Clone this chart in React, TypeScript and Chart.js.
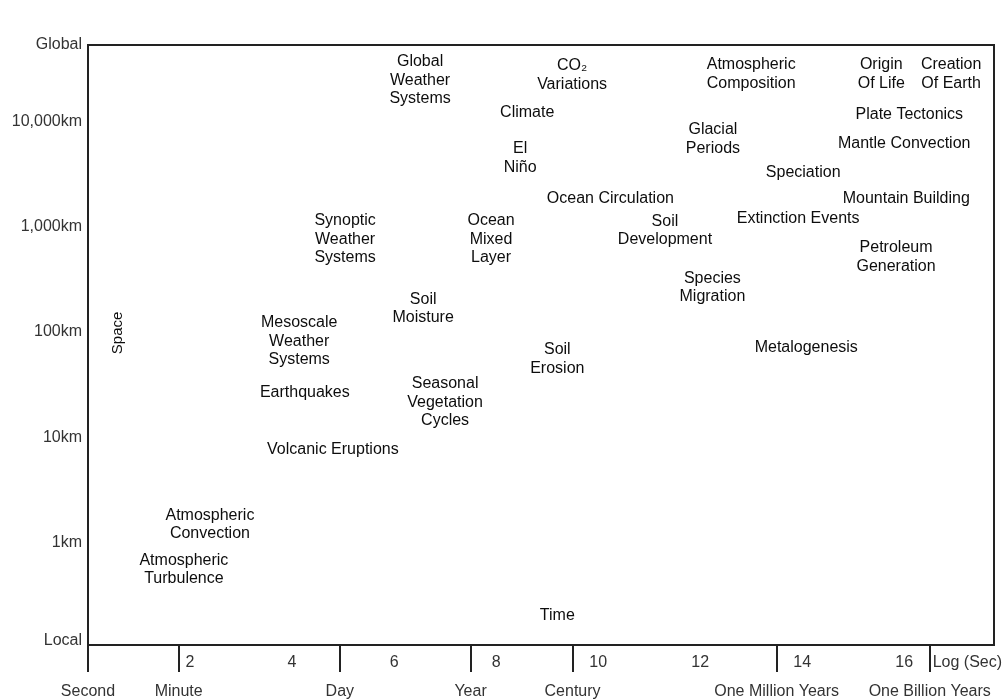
import React, { useEffect, useRef } from "react";
import { Chart, registerables } from "chart.js";

Chart.register(...registerables);

// ---- Data (log10 seconds on x, log10 km on y) ----
const processNames: string[] = [
  "Global\nWeather\nSystems",
  "CO\u2082\nVariations",
  "Climate",
  "El\nNiño",
  "Ocean Circulation",
  "Atmospheric\nComposition",
  "Origin\nOf Life",
  "Creation\nOf Earth",
  "Plate Tectonics",
  "Mantle Convection",
  "Glacial\nPeriods",
  "Speciation",
  "Mountain Building",
  "Extinction Events",
  "Soil\nDevelopment",
  "Petroleum\nGeneration",
  "Species\nMigration",
  "Metalogenesis",
  "Synoptic\nWeather\nSystems",
  "Ocean\nMixed\nLayer",
  "Soil\nMoisture",
  "Mesoscale\nWeather\nSystems",
  "Soil\nErosion",
  "Earthquakes",
  "Seasonal\nVegetation\nCycles",
  "Volcanic Eruptions",
  "Atmospheric\nConvection",
  "Atmospheric\nTurbulence",
];

const logTimeSec: number[] = [
  6.51, 9.49, 8.61, 8.47, 10.24, 13.0, 15.55, 16.92, 16.1, 16.0, 12.25, 14.02,
  16.04, 13.92, 11.31, 15.84, 12.24, 14.08, 5.04, 7.9, 6.57, 4.14, 9.2, 4.25,
  7.0, 4.8, 2.39, 1.88,
];

const logSpaceKm: number[] = [
  4.39, 4.44, 4.08, 3.65, 3.27, 4.45, 4.45, 4.45, 4.06, 3.79, 3.83, 3.51, 3.27,
  3.08, 2.96, 2.71, 2.42, 1.85, 2.88, 2.88, 2.22, 1.91, 1.74, 1.42, 1.33, 0.88,
  0.17, -0.26,
];

const timeTickValues: number[] = [0, 1.778, 4.936, 7.499, 9.499, 13.5, 16.5];
const timeTickLabels: string[] = [
  "Second",
  "Minute",
  "Day",
  "Year",
  "Century",
  "One Million Years",
  "One Billion Years",
];
const logTickValues: number[] = [2, 4, 6, 8, 10, 12, 14, 16];
const logUnitLabel = "Log (Sec)";

const spaceTickValues: number[] = [-0.93, 0, 1, 2, 3, 4, 4.725];
const spaceTickLabels: string[] = [
  "Local",
  "1km",
  "10km",
  "100km",
  "1,000km",
  "10,000km",
  "Global",
];

const timeTitle = { text: "Time", x: 9.2, y: -0.7 };
const spaceTitle = { text: "Space", x: 0.58, y: 1.99 };

const FONT = "'Liberation Sans', Arial, Helvetica, sans-serif";

const framePlugin = {
  id: "frameAndLabels",
  afterDatasetsDraw(chart: any) {
    const { ctx, chartArea } = chart;
    const xs = chart.scales.x;
    const ys = chart.scales.y;
    ctx.save();
    // frame
    ctx.strokeStyle = "#222";
    ctx.lineWidth = 2;
    ctx.strokeRect(
      chartArea.left,
      chartArea.top,
      chartArea.right - chartArea.left,
      chartArea.bottom - chartArea.top
    );

    // process labels
    ctx.font = "16px " + FONT;
    ctx.fillStyle = "#0d0d0d";
    ctx.textAlign = "center";
    ctx.textBaseline = "middle";
    const meta = chart.getDatasetMeta(0);
    const lh = 18.5;
    meta.data.forEach((pt: any, i: number) => {
      const lines = processNames[i].split("\n");
      lines.forEach((ln, j) => {
        ctx.fillText(ln, pt.x, pt.y + (j - (lines.length - 1) / 2) * lh);
      });
    });

    // Time title
    ctx.fillText(
      timeTitle.text,
      xs.getPixelForValue(timeTitle.x),
      ys.getPixelForValue(timeTitle.y)
    );

    // Space title (rotated)
    ctx.save();
    ctx.translate(
      xs.getPixelForValue(spaceTitle.x),
      ys.getPixelForValue(spaceTitle.y)
    );
    ctx.rotate(-Math.PI / 2);
    ctx.font = "15px " + FONT;
    ctx.fillText(spaceTitle.text, 0, 0);
    ctx.restore();

    // log(sec) numbers on the bottom axis
    ctx.font = "16px " + FONT;
    ctx.fillStyle = "#333";
    const ny = chartArea.bottom + 18;
    logTickValues.forEach((v) => {
      ctx.fillText(String(v), xs.getPixelForValue(v), ny);
    });
    ctx.textAlign = "left";
    ctx.fillText(
      logUnitLabel,
      xs.getPixelForValue(timeTickValues[timeTickValues.length - 1]) + 3,
      ny
    );
    ctx.restore();
  },
};

export default function App() {
  const ref = useRef<HTMLCanvasElement | null>(null);

  useEffect(() => {
    document.body.style.margin = "0";
    const canvas = ref.current;
    if (!canvas) return;
    const chart = new Chart(canvas, {
      type: "scatter",
      data: {
        datasets: [
          {
            data: processNames.map((_, i) => ({
              x: logTimeSec[i],
              y: logSpaceKm[i],
            })),
            pointRadius: 0,
            pointHoverRadius: 0,
          },
        ],
      },
      options: {
        animation: false,
        responsive: false,
        events: [],
        layout: { padding: { top: 45, right: 9, left: 0, bottom: 0 } },
        plugins: {
          legend: { display: false },
          tooltip: { enabled: false },
        },
        scales: {
          x: {
            type: "linear",
            position: "bottom",
            min: 0,
            max: 17.76,
            afterBuildTicks: (s: any) => {
              s.ticks = timeTickValues.map((v) => ({ value: v }));
            },
            afterFit: (s: any) => {
              s.height = 55;
            },
            ticks: {
              autoSkip: false,
              maxRotation: 0,
              minRotation: 0,
              padding: 10,
              color: "#333",
              font: { family: FONT, size: 16 },
              callback: (_v: any, i: number) => timeTickLabels[i],
            },
            grid: {
              display: true,
              drawOnChartArea: false,
              drawTicks: true,
              tickLength: 27,
              color: "#222",
              lineWidth: 2,
            },
            border: { display: false },
          },
          y: {
            type: "linear",
            position: "left",
            min: -0.975,
            max: 4.725,
            afterBuildTicks: (s: any) => {
              s.ticks = spaceTickValues.map((v) => ({ value: v }));
            },
            afterFit: (s: any) => {
              s.width = 88;
            },
            ticks: {
              autoSkip: false,
              padding: 6,
              color: "#333",
              font: { family: FONT, size: 16 },
              callback: (_v: any, i: number) => spaceTickLabels[i],
            },
            grid: { display: false, drawTicks: false },
            border: { display: false },
          },
        },
      },
      plugins: [framePlugin],
    } as any);
    return () => chart.destroy();
  }, []);

  return (
    <div style={{ width: 1003, height: 700, background: "#fff" }}>
      <canvas ref={ref} width={1003} height={700} style={{ display: "block" }} />
    </div>
  );
}
